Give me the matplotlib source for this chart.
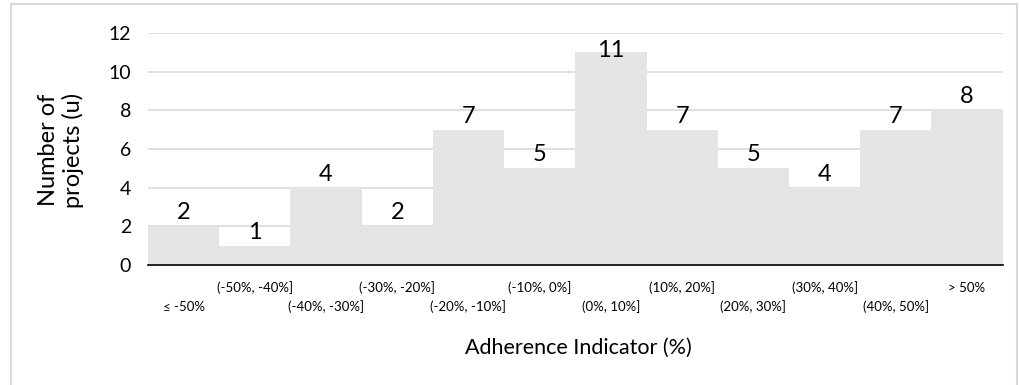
import matplotlib.pyplot as plt
from matplotlib.patches import Rectangle

plt.rcParams['font.family'] = ['Lato', 'DejaVu Sans']

bins = ["≤ -50%", "(-50%, -40%]", "(-40%, -30%]", "(-30%, -20%]",
        "(-20%, -10%]", "(-10%, 0%]", "(0%, 10%]", "(10%, 20%]",
        "(20%, 30%]", "(30%, 40%]", "(40%, 50%]", "> 50%"]
counts = [2, 1, 4, 2, 7, 5, 11, 7, 5, 4, 7, 8]
y_ticks = [0, 2, 4, 6, 8, 10, 12]

fig = plt.figure(figsize=(10.2, 3.85), dpi=100)
ax = fig.add_axes([0.145, 0.312, 0.838, 0.602])

x = list(range(len(counts)))
ax.bar(x, counts, width=1.0, color="#e4e4e4", zorder=2)
ax.set_xlim(-0.5, len(counts) - 0.5)
ax.set_ylim(0, 12)
ax.set_yticks(y_ticks)
ax.yaxis.grid(True, color="#d9d9d9", linewidth=1.2, zorder=0)
ax.set_axisbelow(True)

for s in ["top", "right", "left"]:
    ax.spines[s].set_visible(False)
ax.spines["bottom"].set_color("#000000")
ax.spines["bottom"].set_linewidth(1.2)
ax.spines["bottom"].set_zorder(3)

ax.tick_params(axis="y", length=0, labelsize=14, pad=12)
ax.set_xticks(x)
ax.set_xticklabels([])
ax.tick_params(axis="x", length=0)

# staggered category labels: odd ones on upper row, even ones lower
for i, b in enumerate(bins):
    off = -23 if i % 2 else -42
    ax.annotate(b, (i, 0), xycoords=("data", "axes fraction"),
                xytext=(0, off * 0.72), textcoords="offset points",
                ha="center", va="center", fontsize=9.5)

for i, v in enumerate(counts):
    yy = min(v + 0.36, 10.74)
    ax.text(i, yy, str(v), ha="center", va="baseline", fontsize=17, zorder=4)

fig.text(61 / 1020, 1 - 150 / 385, "Number of\nprojects (u)", rotation=90,
         ha="center", va="center", fontsize=17, linespacing=1.15)
fig.text(578 / 1020, 1 - 348 / 385, "Adherence Indicator (%)",
         ha="center", va="center", fontsize=15.5)

fig.patches.append(Rectangle((11 / 1020, -0.05), 1006 / 1020, 1 - 4 / 385 + 0.05,
                             transform=fig.transFigure, fill=False,
                             edgecolor="#d9d9d9", linewidth=1.5))

fig.savefig("out.png", dpi=100)
